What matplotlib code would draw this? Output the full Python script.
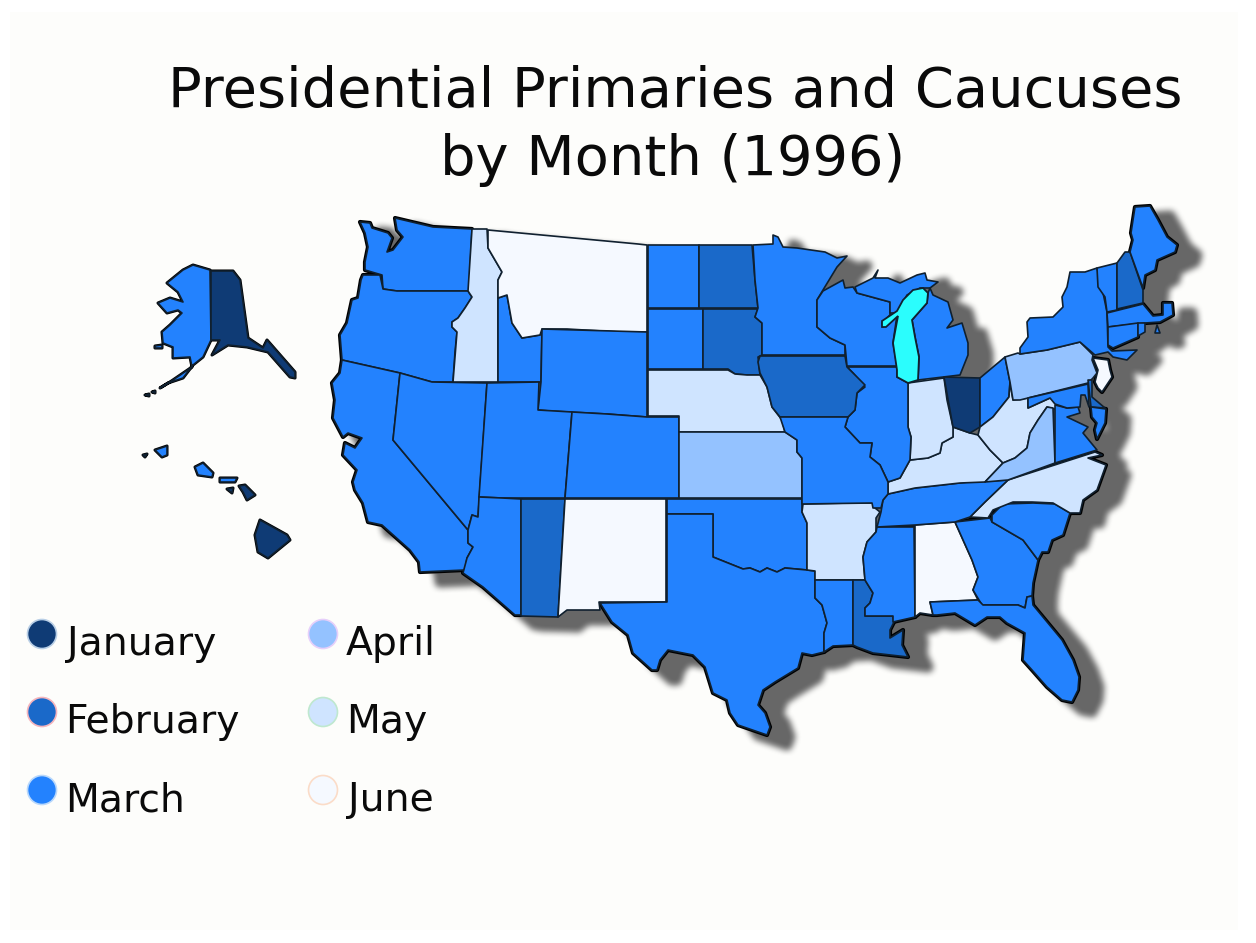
import numpy as np
import matplotlib
matplotlib.use("Agg")
import matplotlib.pyplot as plt
from matplotlib.patches import Polygon, Circle, Rectangle

TITLE = "Presidential Primaries and Caucuses\nby Month (1996)"
MONTHS = ["January", "February", "March", "April", "May", "June"]
MONTH_COLORS = ["#0f3b75", "#1a69c9", "#2382fe", "#94c2ff", "#cfe4ff", "#f5f9ff"]
LEGEND_RINGS = ["#b9cfe6", "#f5b4bc", "#b9d8fb", "#e6cffa", "#bfe8cf", "#fbdcc8"]
LAKE_COLOR = "#2bfdfd"

# Each region: month index, outline (image pixels)
WA = (2, [(360,222),(370,223),(372,228),(388,233),(392,238),(387,252),(393,250),(403,237),(397,230),(395,218),(433,227),(472,229),(469,291),(397,291),(383,289),(382,275),(365,270),(365,262),(368,247),(365,233)])
OR = (2, [(363,275),(380,275),(383,289),(397,291),(468,291),(472,297),(465,308),(458,318),(452,322),(452,327),(457,332),(455,352),(453,382),(432,382),(400,373),(342,360),(340,335),(347,323),(352,300),(358,298),(361,280)])
CA = (2, [(342,360),(400,373),(393,440),(468,530),(468,543),(473,547),(467,558),(465,570),(420,572),(419,562),(410,550),(382,525),(368,522),(363,503),(355,490),(353,482),(357,470),(343,455),(345,443),(355,448),(362,438),(348,433),(343,437),(333,418),(335,400),(332,383),(340,373)])
NV = (2, [(400,373),(432,382),(487,383),(478,517),(472,515),(468,530),(393,440)])
ID_W = (4, [(472,229),(487,229),(488,248),(502,272),(498,280),(498,382),(453,382),(457,332),(452,327),(452,322),(458,318),(465,308),(472,297),(468,291)])
ID_E = (2, [(498,298),(507,295),(512,323),(522,338),(540,335),(542,330),(541,382),(498,382)])
MT = (5, [(488,230),(638,244),(647,245),(647,332),(620,332),(567,329),(542,329),(540,335),(522,338),(512,323),(507,295),(498,298),(498,280),(502,272),(488,248)])
WY = (2, [(542,329),(647,332),(647,417),(607,414),(550,411),(538,410),(541,382)])
UT = (2, [(487,383),(539,382),(538,410),(572,412),(565,498),(502,498),(479,497)])
CO = (2, [(572,412),(607,414),(647,417),(679,417),(679,498),(565,498)])
AZ = (2, [(479,497),(502,498),(521,499),(521,615),(515,615),(483,587),(463,573),(467,558),(473,547),(468,543),(468,530),(472,515),(478,517)])
NM_W = (1, [(521,499),(565,499),(558,617),(521,616)])
NM_E = (5, [(565,499),(666,499),(666,602),(599,602),(600,610),(567,610),(558,617)])
ND_W = (2, [(648,245),(699,245),(699,308),(648,308)])
ND_E = (1, [(699,245),(752,245),(755,280),(758,308),(699,308)])
SD_W = (2, [(648,309),(703,309),(703,369),(648,369)])
SD_E = (1, [(703,309),(758,309),(755,317),(762,323),(762,355),(758,357),(760,375),(747,375),(735,374),(728,369),(703,369)])
NE = (4, [(648,370),(728,370),(735,374),(747,375),(760,375),(767,387),(772,407),(782,420),(785,432),(679,432),(679,416),(648,416)])
KS = (3, [(679,432),(785,432),(797,440),(797,452),(802,458),(802,498),(679,498)])
OK = (2, [(667,499),(802,499),(802,512),(807,523),(807,570),(785,568),(777,572),(767,568),(760,572),(750,568),(743,569),(713,557),(713,514),(667,514)])
TX = (2, [(667,514),(713,514),(713,557),(743,569),(750,568),(760,572),(767,568),(777,572),(785,568),(807,570),(815,571),(815,598),(822,605),(827,623),(824,633),(824,652),(812,655),(802,653),(798,668),(775,682),(763,690),(758,705),(765,713),(770,727),(767,735),(738,725),(730,713),(727,700),(713,693),(705,667),(693,655),(668,650),(660,660),(657,670),(652,670),(633,653),(628,635),(612,622),(600,603),(667,602)])
AR = (4, [(803,504),(850,503),(873,503),(875,508),(880,512),(876,518),(876,532),(867,542),(863,557),(865,580),(815,580),(815,571),(807,570),(807,523),(802,512)])
LA_W = (2, [(815,580),(853,580),(853,645),(833,646),(824,652),(824,633),(827,623),(822,605),(815,598)])
LA_E = (1, [(853,580),(865,580),(873,593),(870,603),(865,608),(865,616),(893,616),(894,622),(890,630),(890,638),(903,630),(902,645),(908,657),(873,653),(857,647),(853,645)])
MS = (2, [(877,527),(914,527),(915,617),(893,622),(893,616),(865,616),(865,608),(870,603),(873,593),(865,580),(863,557),(867,542),(876,532)])
AL = (5, [(915,525),(955,522),(972,560),(978,577),(973,590),(978,600),(930,602),(933,615),(920,613),(915,617)])
GA = (2, [(955,522),(990,518),(992,522),(1023,540),(1038,560),(1033,583),(1032,596),(1027,597),(1025,608),(1018,605),(982,605),(973,590),(978,577),(972,560)])
SC = (2, [(992,515),(1003,504),(1033,503),(1055,504),(1070,513),(1063,535),(1052,540),(1048,552),(1042,552),(1038,560),(1023,540),(992,522)])
NC = (4, [(970,517),(985,502),(1008,480),(1095,452),(1102,455),(1088,458),(1106,465),(1097,490),(1083,500),(1080,513),(1070,513),(1053,503),(1032,502),(1013,502),(993,510),(988,518)])
FL = (2, [(930,602),(978,600),(983,605),(1018,605),(1025,608),(1027,597),(1032,596),(1033,605),(1062,640),(1073,660),(1079,677),(1078,690),(1072,702),(1062,700),(1047,687),(1032,670),(1023,660),(1025,633),(1007,623),(1000,617),(987,617),(975,625),(955,613),(937,615),(933,615)])
TN = (2, [(888,494),(915,488),(968,482),(1008,480),(985,502),(970,517),(955,522),(915,525),(877,527),(881,512),(883,500)])
KY = (4, [(888,482),(900,478),(910,460),(928,458),(940,453),(942,443),(953,437),(953,427),(970,433),(978,435),(990,450),(1003,463),(985,482),(960,483),(915,488),(888,494)])
IN = (4, [(908,383),(944,378),(947,400),(953,427),(953,437),(942,443),(940,453),(928,458),(910,460),(911,437),(908,427)])
IL = (2, [(847,367),(897,367),(897,377),(908,383),(908,427),(911,437),(910,460),(900,478),(888,482),(880,465),(870,457),(872,443),(860,443),(845,427),(848,417),(855,410),(857,393),(865,387),(853,373)])
IA = (1, [(760,356),(845,356),(847,367),(853,373),(865,385),(857,393),(855,410),(848,417),(780,417),(772,407),(767,387),(760,373),(758,362)])
MO = (2, [(780,417),(848,417),(845,427),(860,443),(872,443),(870,457),(880,465),(888,482),(888,494),(883,500),(881,508),(873,508),(872,503),(802,504),(802,458),(797,452),(797,440),(785,432)])
MN = (2, [(753,245),(773,244),(773,235),(778,237),(783,247),(797,248),(825,252),(837,258),(847,256),(837,267),(823,290),(817,300),(817,327),(830,338),(845,345),(845,355),(762,355),(762,323),(755,317),(758,308),(755,280)])
WI = (2, [(823,291),(843,280),(845,288),(853,287),(857,293),(890,302),(890,315),(882,323),(883,327),(897,315),(893,343),(897,366),(847,366),(845,345),(830,338),(817,327),(817,300)])
MI_U = (2, [(855,287),(873,278),(878,270),(875,278),(888,278),(900,283),(917,275),(925,273),(927,280),(938,282),(930,288),(920,288),(907,295),(897,313),(890,313),(890,302),(857,293)])
MI_L = (2, [(930,288),(933,295),(948,302),(953,320),(947,328),(962,323),(968,343),(968,355),(960,375),(918,380),(919,357),(915,337),(912,320),(927,303),(928,293)])
OH_W = (0, [(944,377),(980,378),(980,427),(970,433),(953,427)])
OH_E = (2, [(980,378),(1005,357),(1010,382),(1009,397),(993,417),(980,427)])
WV = (4, [(1010,382),(1013,400),(1028,398),(1028,408),(1050,398),(1058,403),(1058,410),(1047,407),(1038,420),(1030,433),(1027,448),(1015,458),(1003,463),(990,450),(978,435),(980,427),(993,417),(1009,397)])
VA_W = (3, [(1047,407),(1053,408),(1055,463),(1008,480),(985,482),(1003,463),(1015,458),(1027,448),(1030,433),(1038,420)])
VA_E = (2, [(1055,405),(1067,408),(1078,407),(1080,413),(1067,417),(1088,427),(1083,433),(1097,450),(1055,463)])
PA = (3, [(1005,357),(1018,353),(1020,354),(1047,350),(1080,342),(1093,355),(1092,360),(1097,373),(1093,378),(1088,383),(1020,400),(1013,400),(1010,382)])
NY = (2, [(1020,348),(1028,337),(1027,322),(1030,318),(1053,317),(1063,307),(1062,297),(1067,287),(1070,272),(1085,272),(1097,268),(1102,288),(1107,312),(1108,347),(1112,351),(1137,350),(1127,360),(1113,357),(1108,352),(1095,355),(1080,342),(1047,350),(1020,354)])
VT = (2, [(1097,268),(1117,263),(1117,310),(1107,312),(1105,297),(1098,287)])
NH = (1, [(1117,263),(1125,252),(1130,252),(1143,290),(1143,303),(1117,309)])
ME = (2, [(1130,252),(1133,240),(1131,233),(1135,207),(1150,206),(1158,220),(1167,237),(1177,245),(1175,252),(1157,260),(1155,270),(1145,275),(1143,288)])
MA = (2, [(1107,313),(1143,304),(1153,316),(1163,315),(1163,303),(1172,303),(1173,315),(1160,322),(1145,323),(1108,327)])
CT = (2, [(1108,327),(1138,323),(1138,337),(1113,348),(1108,345)])
RI = (2, [(1138,323),(1145,323),(1145,332),(1138,336)])
CAPE_ISL = (2, [(1157,325),(1160,333),(1155,333)])
NJ = (5, [(1093,358),(1108,360),(1110,370),(1112,377),(1102,392),(1098,388),(1095,382),(1098,370)])
MD = (2, [(1028,398),(1088,384),(1089,407),(1085,395),(1081,395),(1080,407),(1067,408),(1055,404),(1050,398),(1028,408)])
DE = (1, [(1088,380),(1092,380),(1092,397),(1105,408),(1091,407)])
DELMARVA = (2, [(1091,407),(1106,409),(1105,423),(1097,439),(1095,430),(1097,423),(1092,417)])
AK_W = (2, [(210,270),(211,340),(203,357),(193,365),(183,378),(168,383),(160,388),(170,382),(192,367),(190,357),(173,358),(173,347),(163,343),(162,332),(170,325),(182,313),(178,310),(167,313),(158,303),(170,298),(183,302),(178,292),(167,283),(183,270),(193,265)])
AK_E = (0, [(211,271),(233,271),(240,280),(248,338),(263,348),(267,340),(295,372),(295,378),(290,377),(268,352),(247,347),(228,345),(212,355),(220,340),(211,340)])
AK_NUNIVAK = (2, [(155,346),(162,345),(162,348),(155,348)])
AK_ALEUT_1 = (0, [(145,395),(149,394),(149,396)])
AK_ALEUT_2 = (0, [(152,392),(155,391),(155,393)])
HI_KAUAI = (2, [(155,450),(167,446),(167,455),(162,457)])
HI_NIIHAU = (0, [(143,455),(147,454),(145,457)])
HI_OAHU = (2, [(195,467),(203,463),(213,473),(212,477),(198,475)])
HI_MOLOKAI = (2, [(220,478),(237,478),(235,482),(220,482)])
HI_LANAI = (0, [(227,489),(233,488),(232,493)])
HI_MAUI = (0, [(239,486),(245,485),(255,495),(247,500),(243,492)])
HI_BIG = (0, [(260,520),(287,535),(290,540),(268,558),(258,552),(255,535)])
LAKE_MICHIGAN = [(882,321),(882,327),(886,327),(898,316),(893,343),(897,370),(897,377),(908,383),(918,380),(919,357),(915,337),(912,320),(927,303),(928,293),(923,288),(913,290),(903,300),(897,311)]
CHESAPEAKE = [(1080,395),(1085,395),(1091,410),(1098,430),(1095,438),(1083,433),(1088,427),(1067,417),(1080,408)]

LOWER48 = [WA, OR, CA, NV, ID_W, ID_E, MT, WY, UT, CO, AZ, NM_W, NM_E, ND_W, ND_E, SD_W, SD_E, NE, KS, OK, TX, AR,
           LA_W, LA_E, MS, AL, GA, SC, NC, FL, TN, KY, IN, IL, IA, MO, MN, WI, MI_U, MI_L, OH_W, OH_E, WV, VA_W,
           VA_E, PA, NY, VT, NH, ME, MA, CT, RI, CAPE_ISL, NJ, MD, DE, DELMARVA]
COASTAL = [WA, OR, CA, AZ, TX, LA_W, LA_E, MS, AL, FL, GA, SC, NC, DELMARVA, NJ, CT, MA, ME]
OUTLYING = [AK_W, AK_E, AK_NUNIVAK, AK_ALEUT_1, AK_ALEUT_2, HI_KAUAI, HI_NIIHAU, HI_OAHU, HI_MOLOKAI, HI_LANAI, HI_MAUI, HI_BIG]

W, H = 1256, 943
SHADOW_DX, SHADOW_DY = 20, 10


def make_axes(fig):
    ax = fig.add_axes([0, 0, 1, 1])
    ax.set_xlim(0, W)
    ax.set_ylim(H, 0)
    ax.axis("off")
    return ax


def shadow_mask():
    f = plt.figure(figsize=(W / 100, H / 100), dpi=100)
    a = make_axes(f)
    for _, pts in LOWER48:
        a.add_patch(Polygon(pts, closed=True, fc="black", ec="black", lw=8, joinstyle="round"))
    f.canvas.draw()
    buf = np.asarray(f.canvas.buffer_rgba())[:, :, 0].astype(float)
    plt.close(f)
    m = 1 - buf / 255
    m = np.roll(np.roll(m, SHADOW_DX, axis=1), SHADOW_DY, axis=0)
    k = np.ones(7) / 7
    for _ in range(2):
        m = np.apply_along_axis(lambda r: np.convolve(r, k, mode="same"), 1, m)
        m = np.apply_along_axis(lambda c: np.convolve(c, k, mode="same"), 0, m)
    return m


fig = plt.figure(figsize=(W / 100, H / 100), dpi=100, facecolor="white")
ax = make_axes(fig)
ax.add_patch(Rectangle((10, 12), 1228, 918, fc="#fdfdfb", ec="none", zorder=0))

mask = shadow_mask()
rgba = np.zeros((H, W, 4))
rgba[..., :3] = 0x66 / 255
rgba[..., 3] = mask
ax.imshow(rgba, extent=(0, W, H, 0), zorder=1, aspect="auto", interpolation="nearest")
ax.set_xlim(0, W)
ax.set_ylim(H, 0)

ax.add_patch(Polygon(CHESAPEAKE, closed=True, fc="#666666", ec="none", zorder=1.5))

# heavy coast line below the fills, thin state borders on top
for _, pts in COASTAL:
    ax.add_patch(Polygon(pts, closed=True, fc="black", ec="black", lw=3.0, zorder=2, joinstyle="round"))
for month, pts in OUTLYING:
    ax.add_patch(Polygon(pts, closed=True, fc="black", ec="black", lw=2.2, zorder=2, joinstyle="round"))
for month, pts in LOWER48 + OUTLYING:
    ax.add_patch(Polygon(pts, closed=True, fc=MONTH_COLORS[month], ec="#10202f", lw=1.2, zorder=3, joinstyle="round"))
ax.add_patch(Polygon(LAKE_MICHIGAN, closed=True, fc=LAKE_COLOR, ec="#10202f", lw=1.3, zorder=4))

ax.text(675.5, 92, TITLE.split("\n")[0], ha="center", va="center", fontsize=40.25, color="#0a0a0a")
ax.text(673, 160, TITLE.split("\n")[1], ha="center", va="center", fontsize=40.25, color="#0a0a0a")

legend_x = [42, 323]
legend_text_x = [[67, 65, 65], [346, 346, 348]]
legend_y = [634, 712, 790]
for i, (name, col, ring) in enumerate(zip(MONTHS, MONTH_COLORS, LEGEND_RINGS)):
    c, r = i // 3, i % 3
    ax.add_patch(Circle((legend_x[c], legend_y[r]), 14.5, fc=col, ec=ring, lw=1.2, zorder=3))
    ax.text(legend_text_x[c][r], legend_y[r] + 21, name, ha="left", va="baseline", fontsize=28.3, color="#0a0a0a")

fig.savefig("out.png", dpi=100, facecolor="white")
